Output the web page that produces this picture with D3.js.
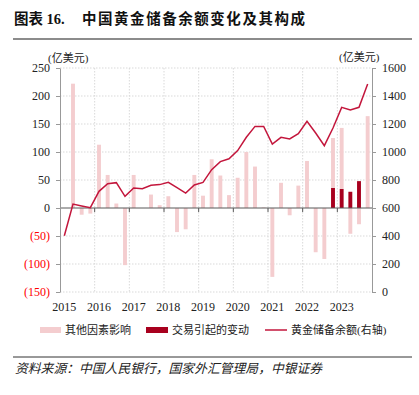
<!DOCTYPE html>
<html>
<head>
<meta charset="utf-8">
<script src="https://cdn.jsdelivr.net/npm/d3@7"></script>
<style>
  body { margin: 0; background: #fff; }
  svg { display: block; }
  .tick text { font-family: "Liberation Serif", "Times New Roman", serif; }
</style>
</head>
<body>
<div id="chart"></div>
<script>
// Quarterly data, 2015Q1 - 2023Q4 (亿美元)
const years = [2015, 2016, 2017, 2018, 2019, 2020, 2021, 2022, 2023];
const quarters = years.flatMap(y => ["Q1", "Q2", "Q3", "Q4"].map(q => y + q));

// 其他因素影响
const otherFactors = [
  0, 222, -12, -10, 113, 59, 8, -102, 59, 0, 24, 5,
  21, -43, -38, 59, 22, 87, 58, 23, 54, 100, 74, 1,
  -123, 45, -13, 40, 84, -79, -91, 89, 109, -46, -29, 164
];
// 交易引起的变动
const transactions = [
  0, 0, 0, 0, 0, 0, 0, 0, 0, 0, 0, 0,
  0, 0, 0, 0, 0, 0, 0, 0, 0, 0, 0, 0,
  0, 0, 0, 0, 0, 0, 0, 36, 34, 29, 48, 0
];
// 黄金储备余额 (右轴)
const goldReserve = [
  402, 628, 615, 602, 719, 774, 781, 683, 743, 738, 762, 767,
  783, 745, 707, 764, 783, 874, 931, 952, 1010, 1105, 1183, 1183,
  1057, 1105, 1093, 1131, 1219, 1136, 1045, 1171, 1319, 1300, 1319, 1486
];
const leftTicks = [-150, -100, -50, 0, 50, 100, 150, 200, 250];
const rightTicks = [0, 200, 400, 600, 800, 1000, 1200, 1400, 1600];

const width = 419, height = 395;
const serif = '"Liberation Serif", "Noto Sans CJK SC", serif';
const cjk = '"Liberation Serif", "Noto Sans CJK SC", sans-serif';
const pink = "#F4CDCF", darkRed = "#A8001E", lineRed = "#C3163C";

const svg = d3.select("#chart").append("svg")
  .attr("width", width).attr("height", height);

// Title and rule
const title = svg.append("g").attr("font-family", cjk).attr("font-size", 14.5)
  .attr("font-weight", "bold").attr("fill", "#111");
title.append("text").attr("x", 14).attr("y", 24).text("图表 16.");
title.append("text").attr("x", 82).attr("y", 24)
  .attr("textLength", 223).attr("lengthAdjust", "spacing")
  .text("中国黄金储备余额变化及其构成");
svg.append("line").attr("x1", 13).attr("x2", 412).attr("y1", 39).attr("y2", 39)
  .attr("stroke", "#8c8c8c").attr("stroke-width", 2);

// Scales
const x = d3.scaleBand().domain(quarters).range([60, 372]).padding(0);
const yL = d3.scaleLinear().domain([-150, 250]).range([292, 68]);
const yR = d3.scaleLinear().domain([0, 1600]).range([292, 68]);

// Grid lines (dotted)
const grid = svg.append("g");
grid.selectAll(".hg").data(leftTicks.filter(d => d !== 0)).join("line")
  .attr("x1", 60).attr("x2", 372)
  .attr("y1", d => yL(d)).attr("y2", d => yL(d))
  .attr("stroke", "#d9d9d9").attr("stroke-dasharray", "1.5,1.5");
const yearStarts = years.slice(1).map(y => y + "Q1");
grid.selectAll(".vg").data(yearStarts).join("line")
  .attr("x1", d => x(d)).attr("x2", d => x(d))
  .attr("y1", 68).attr("y2", 292)
  .attr("stroke", "#d9d9d9").attr("stroke-dasharray", "1.5,1.5");

// Stacked bars (diverging)
const rows = quarters.map((q, i) => ({ q, trans: transactions[i], other: otherFactors[i] }));
const series = d3.stack().keys(["trans", "other"]).offset(d3.stackOffsetDiverging)(rows);
const colors = { trans: darkRed, other: pink };
const barW = x.bandwidth() * 0.45;
svg.append("g").selectAll("g").data(series).join("g")
  .attr("fill", d => colors[d.key])
  .selectAll("rect").data(d => d).join("rect")
  .attr("x", d => x(d.data.q) + (x.bandwidth() - barW) / 2)
  .attr("width", barW)
  .attr("y", d => yL(Math.max(d[0], d[1])))
  .attr("height", d => Math.abs(yL(d[0]) - yL(d[1])));

// Zero line with year ticks
svg.append("line").attr("x1", 60).attr("x2", 372)
  .attr("y1", yL(0)).attr("y2", yL(0))
  .attr("stroke", "#595959").attr("stroke-width", 1);
svg.append("g").selectAll("line").data(yearStarts).join("line")
  .attr("x1", d => x(d)).attr("x2", d => x(d))
  .attr("y1", yL(0)).attr("y2", yL(0) + 4)
  .attr("stroke", "#595959");

// Gold reserve line
svg.append("path").datum(goldReserve)
  .attr("fill", "none").attr("stroke", lineRed).attr("stroke-width", 1.5)
  .attr("d", d3.line()
    .x((d, i) => x(quarters[i]) + x.bandwidth() / 2)
    .y(d => yR(d)));

// Left axis
const fmt = d => d < 0 ? "(" + (-d) + ")" : d;
const gL = svg.append("g").attr("transform", "translate(60,0)")
  .call(d3.axisLeft(yL).tickValues(leftTicks).tickFormat(fmt).tickSize(4).tickPadding(6).tickSizeOuter(0));
gL.selectAll("text").attr("font-size", 12)
  .attr("fill", d => d < 0 ? "#FF0000" : "#222");
gL.select(".domain").attr("stroke", "#999");
gL.selectAll(".tick line").attr("stroke", "#999");

// Right axis
const gR = svg.append("g").attr("transform", "translate(372,0)")
  .call(d3.axisRight(yR).tickValues(rightTicks).tickFormat(d3.format("d")).tickSize(4).tickPadding(6).tickSizeOuter(0));
gR.selectAll("text").attr("font-size", 12).attr("fill", "#222");
gR.select(".domain").attr("stroke", "#999");
gR.selectAll(".tick line").attr("stroke", "#999");

// Year labels
svg.append("g").selectAll("text").data(years).join("text")
  .attr("x", d => x(d + "Q1") + x.bandwidth() / 2)
  .attr("y", 311)
  .attr("text-anchor", "middle")
  .attr("font-family", serif).attr("font-size", 12).attr("fill", "#222")
  .text(d => d);

// Unit labels
svg.append("text").attr("x", 48).attr("y", 62)
  .attr("font-family", cjk).attr("font-size", 11).attr("fill", "#222").text("(亿美元)");
svg.append("text").attr("x", 339).attr("y", 61)
  .attr("font-family", cjk).attr("font-size", 11).attr("fill", "#222").text("(亿美元)");

// Legend
const legend = svg.append("g").attr("font-family", cjk).attr("font-size", 11).attr("fill", "#222");
const legendY = 330;
legend.append("rect").attr("x", 40).attr("y", legendY - 3).attr("width", 21).attr("height", 6).attr("fill", pink);
legend.append("text").attr("x", 65).attr("y", legendY + 4).text("其他因素影响");
legend.append("rect").attr("x", 146).attr("y", legendY - 3).attr("width", 22).attr("height", 6).attr("fill", darkRed);
legend.append("text").attr("x", 172).attr("y", legendY + 4).text("交易引起的变动");
legend.append("line").attr("x1", 265).attr("x2", 287).attr("y1", legendY).attr("y2", legendY)
  .attr("stroke", lineRed).attr("stroke-width", 1.5);
legend.append("text").attr("x", 291).attr("y", legendY + 4).text("黄金储备余额(右轴)");

// Source
svg.append("line").attr("x1", 13).attr("x2", 412).attr("y1", 357).attr("y2", 357)
  .attr("stroke", "#333").attr("stroke-width", 1);
svg.append("text").attr("x", 15).attr("y", 373)
  .attr("font-family", cjk).attr("font-size", 12.8).attr("font-style", "italic").attr("fill", "#222")
  .text("资料来源：中国人民银行，国家外汇管理局，中银证券");
</script>
</body>
</html>
